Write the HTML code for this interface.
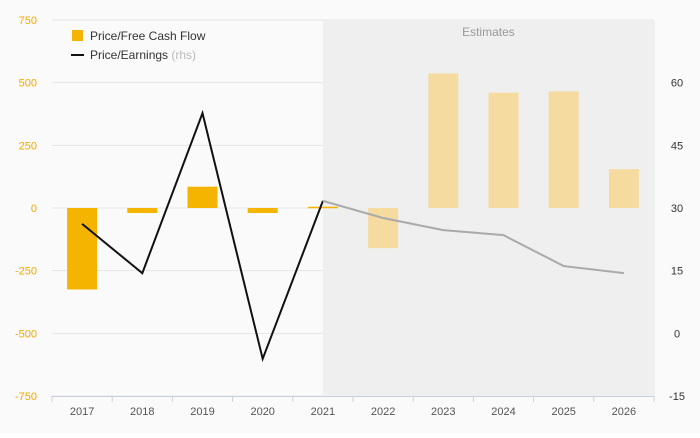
<!DOCTYPE html>
<html><head><meta charset="utf-8"><style>
body{margin:0;background:#fff;font-family:"Liberation Sans",sans-serif}
svg text{font-family:"Liberation Sans",sans-serif}
</style></head><body>
<svg id="chart" width="700" height="433">
<rect x="0" y="0" width="700" height="433" fill="#fafafa"/>
<g id="grid"></g>
<rect id="est" y="20" height="376" fill="#efefef"/>
<text id="estlbl" y="36" font-size="12" fill="#999" text-anchor="middle">Estimates</text>
<g id="bars"></g>
<g id="lines"></g>
<g id="axes"></g>
<g>
<rect x="72" y="30" width="11" height="11" fill="#f5b400"/>
<text x="90" y="40" font-size="12" fill="#333">Price/Free Cash Flow</text>
<line x1="71" y1="55" x2="84" y2="55" stroke="#111" stroke-width="2"/>
<text x="90" y="59" font-size="12" fill="#333">Price/Earnings <tspan fill="#bbb">(rhs)</tspan></text>
</g>
</svg>
<script>
const categories=["2017","2018","2019","2020","2021","2022","2023","2024","2025","2026"];
const pfcf=[-325,-20,85,-20,5,-160,537,460,465,155];
const pe=[26.2,14.4,52.7,-6.1,31.7,27.6,24.7,23.5,16.1,14.4];
const leftTicks=[750,500,250,0,-250,-500,-750];
const rightTicks=[60,45,30,15,0,-15];
const firstEstimate=5;
const NS="http://www.w3.org/2000/svg";
const X0=52,X1=654,Y0=20,Y1=396;
const step=(X1-X0)/categories.length;
const xc=i=>X0+step*(i+0.5);
const yl=v=>Y0+(750-v)/1500*(Y1-Y0);
const yr=v=>Y0+(75-v)/90*(Y1-Y0);
function mk(tag,attrs,parent){const e=document.createElementNS(NS,tag);for(const k in attrs)e.setAttribute(k,attrs[k]);parent.appendChild(e);return e;}
const grid=document.getElementById('grid'),bars=document.getElementById('bars'),lines=document.getElementById('lines'),axes=document.getElementById('axes');
const est=document.getElementById('est');
est.setAttribute('x',xc(firstEstimate-1));est.setAttribute('width',X1+1-xc(firstEstimate-1));
document.getElementById('estlbl').setAttribute('x',(xc(firstEstimate-1)+X1)/2);
leftTicks.forEach(t=>{
 const g=mk('line',{x1:X0,x2:X1,y1:yl(t),y2:yl(t),stroke:'#e6e6e6','stroke-width':1},grid);
 
 
 const tx=mk('text',{x:37,y:yl(t)+4,'font-size':11,fill:'#f5a800','text-anchor':'end'},axes);
 tx.textContent=t;
 
 
});
rightTicks.forEach(t=>{
 const tx=mk('text',{x:677,y:yr(t)+4,'font-size':11,fill:'#333','text-anchor':'middle'},axes);
 tx.textContent=t;
 
 
});
const ax=mk('line',{x1:X0,x2:X1,y1:Y1+0.5,y2:Y1+0.5,stroke:'#c8d0e0'},axes);


for(let i=0;i<=categories.length;i++){
 const tk=mk('line',{x1:X0+step*i,x2:X0+step*i,y1:Y1,y2:Y1+6,stroke:'#c8d0e0'},axes);
 
 
}
categories.forEach((c,i)=>{
 const tx=mk('text',{x:xc(i),y:415,'font-size':11,fill:'#555','text-anchor':'middle'},axes);
 tx.textContent=c;
 
 
 const v=pfcf[i],y=Math.min(yl(v),yl(0)),h=Math.max(Math.abs(yl(v)-yl(0)),1.5);
 const b=mk('rect',{x:xc(i)-15,y:y,width:30,height:h,fill:i>=firstEstimate?'#f5dba0':'#f5b400'},bars);
 
 
});
const hist=[],fut=[];
pe.forEach((v,i)=>{if(i<firstEstimate)hist.push(xc(i)+','+yr(v));if(i>=firstEstimate-1)fut.push(xc(i)+','+yr(v));});
const l1=mk('polyline',{points:hist.join(' '),fill:'none',stroke:'#111','stroke-width':2},lines);


const l2=mk('polyline',{points:fut.join(' '),fill:'none',stroke:'#aaa','stroke-width':2},lines);


</script>
</body></html>
